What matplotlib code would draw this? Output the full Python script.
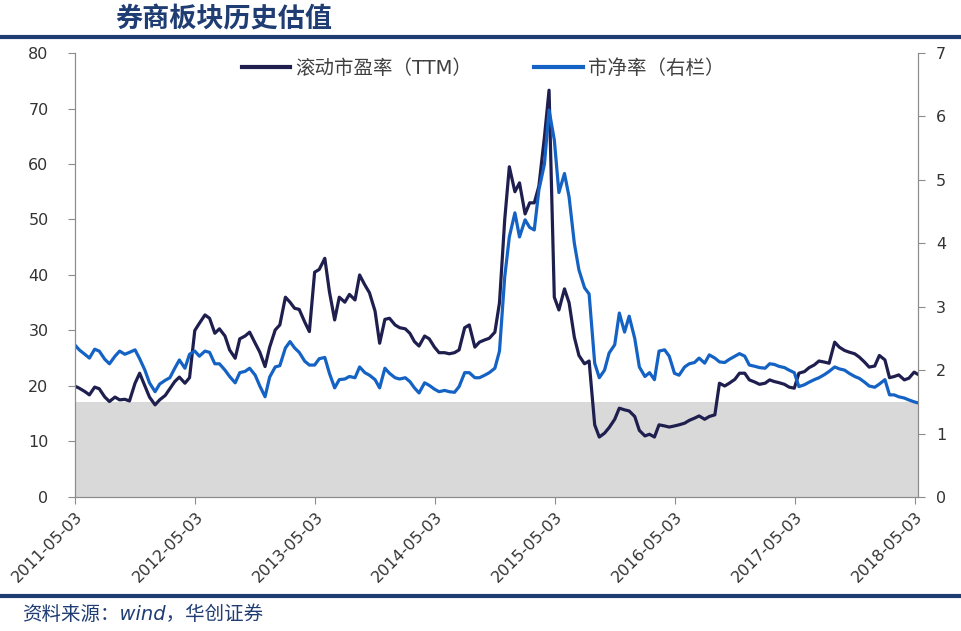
import numpy as np
import pandas as pd
import matplotlib
matplotlib.use('Agg')
import matplotlib.pyplot as plt
from matplotlib.lines import Line2D

plt.rcParams['font.family'] = ['DejaVu Sans', 'Noto Sans CJK SC']

# semi-monthly samples, 2011-05 .. 2018-05
dates = pd.date_range('2011-05-01', periods=170, freq='SMS')

pe_ttm = [
    20.0, 19.6, 19.0, 18.4, 19.8, 19.5, 18.0, 17.2, 18.0, 17.5,
    17.6, 17.3, 20.5, 22.3, 20.0, 18.0, 16.6, 17.5, 18.3, 19.5,
    20.8, 21.6, 20.5, 21.5, 30.0, 31.3, 32.8, 32.2, 29.5, 30.3,
    29.0, 26.5, 25.0, 28.5, 29.0, 29.7, 27.7, 26.1, 23.5, 27.0,
    30.1, 31.0, 36.0, 35.1, 34.0, 33.8, 31.5, 29.8, 40.5, 41.0,
    43.0, 37.0, 31.9, 36.0, 35.1, 36.5, 35.5, 40.0, 38.2, 36.8,
    33.5, 27.7, 32.0, 32.2, 31.0, 30.5, 30.3, 29.5, 28.0, 27.2,
    29.0, 28.5, 27.0, 26.0, 26.0, 25.8, 26.0, 26.5, 30.5, 31.0,
    27.0, 27.9, 28.3, 28.6, 29.7, 35.0, 50.0, 59.5, 55.0, 56.6,
    51.0, 53.0, 53.0, 56.0, 64.9, 73.3, 36.0, 33.7, 37.5, 35.0,
    28.8, 25.5, 24.0, 24.5, 13.0, 10.8, 11.5, 12.5, 14.0, 16.0,
    15.7, 15.5, 14.5, 12.0, 11.0, 11.3, 10.8, 13.0, 12.8, 12.6,
    12.8, 13.0, 13.3, 13.8, 14.2, 14.6, 14.0, 14.5, 14.8, 20.5,
    20.0, 20.5, 21.2, 22.3, 22.3, 21.1, 20.7, 20.3, 20.5, 21.1,
    20.8, 20.6, 20.3, 19.8, 19.6, 22.3, 22.6, 23.3, 23.8, 24.5,
    24.3, 24.1, 27.9, 27.0, 26.4, 26.1, 25.8, 25.2, 24.3, 23.4,
    23.6, 25.5, 24.7, 21.5, 21.7, 22.0, 21.1, 21.4, 22.5, 22.0,
]

pb = [
    2.40, 2.32, 2.25, 2.19, 2.33, 2.30, 2.17, 2.10, 2.22, 2.30,
    2.25, 2.28, 2.32, 2.18, 2.00, 1.80, 1.66, 1.78, 1.84, 1.88,
    2.03, 2.16, 2.03, 2.25, 2.30, 2.22, 2.30, 2.28, 2.10, 2.10,
    2.00, 1.90, 1.80, 1.96, 1.98, 2.03, 1.92, 1.75, 1.58, 1.89,
    2.05, 2.07, 2.35, 2.45, 2.35, 2.28, 2.14, 2.08, 2.08, 2.18,
    2.20, 1.95, 1.72, 1.85, 1.86, 1.90, 1.88, 2.05, 1.96, 1.92,
    1.85, 1.72, 2.03, 1.95, 1.88, 1.86, 1.88, 1.82, 1.72, 1.64,
    1.80, 1.76, 1.70, 1.66, 1.68, 1.66, 1.65, 1.74, 1.96, 1.96,
    1.88, 1.88, 1.92, 1.96, 2.03, 2.30, 3.47, 4.10, 4.48, 4.10,
    4.37, 4.25, 4.21, 4.84, 5.25, 6.10, 5.63, 4.80, 5.10, 4.73,
    4.00, 3.58, 3.30, 3.20, 2.11, 1.88, 2.00, 2.27, 2.40, 2.90,
    2.60, 2.85, 2.50, 2.05, 1.90, 1.96, 1.85, 2.30, 2.32, 2.22,
    1.95, 1.92, 2.05, 2.10, 2.12, 2.19, 2.11, 2.24, 2.19, 2.13,
    2.12, 2.17, 2.22, 2.26, 2.22, 2.08, 2.06, 2.04, 2.03, 2.10,
    2.09, 2.06, 2.04, 2.00, 1.96, 1.74, 1.77, 1.81, 1.85, 1.88,
    1.93, 1.98, 2.05, 2.02, 2.00, 1.95, 1.90, 1.87, 1.81, 1.75,
    1.73, 1.78, 1.85, 1.61, 1.61, 1.58, 1.56, 1.53, 1.50, 1.48,
]

pb_floor = 1.5  # grey band, right-axis units
tick_labels = ['2011-05-03', '2012-05-03', '2013-05-03', '2014-05-03',
               '2015-05-03', '2016-05-03', '2017-05-03', '2018-05-03']

navy = '#1f3d73'
fig = plt.figure(figsize=(9.61, 6.31), dpi=100)
ax = fig.add_axes([0.078, 0.2124, 0.877, 0.7036])
ax2 = ax.twinx()

pe_max, pb_max = 80, 7
ax.axhspan(0, pb_floor * pe_max / pb_max, color='#d9d9d9', lw=0, zorder=0)
l1, = ax.plot(dates, pe_ttm, color='#1f1f4f', lw=2.3, label='滚动市盈率（TTM）')
l2, = ax2.plot(dates, pb, color='#1462c4', lw=2.3, label='市净率（右栏）')

ax.set_ylim(0, pe_max)
ax2.set_ylim(0, pb_max)
ax.set_yticks(range(0, 81, 10))
ax2.set_yticks(range(0, 8))
ax.set_xlim(pd.Timestamp('2011-05-02'), pd.Timestamp('2018-05-12'))
ax.set_xticks(pd.to_datetime(tick_labels))
ax.set_xticklabels(tick_labels, rotation=45, ha='right', rotation_mode='anchor')

for a in (ax, ax2):
    a.spines['top'].set_visible(False)
    for s in ('left', 'right', 'bottom'):
        a.spines[s].set_color('#8c8c8c')
    a.tick_params(colors='#8c8c8c', labelcolor='#333333', labelsize=11.5,
                  length=5)
ax.tick_params(axis='x', pad=4)
ax.tick_params(axis='y', pad=14)
ax2.tick_params(axis='y', pad=8)

leg = ax2.legend(handles=[l1, l2], loc='center', bbox_to_anchor=(0.484, 0.966),
                 ncol=2, frameon=False, fontsize=14, handlelength=2.5,
                 handletextpad=0.25, columnspacing=3.2)
for t in leg.get_texts():
    t.set_color('#404040')
for h in leg.get_lines():
    h.set_linewidth(3)

fig.text(115 / 961, 1 - 19 / 631, '券商板块历史估值', fontsize=19.5, fontweight='bold',
         color=navy, va='center', ha='left', family=['Noto Sans CJK SC'])
fig.add_artist(Line2D([0, 1], [1 - 37 / 631] * 2, color=navy, lw=3,
                      transform=fig.transFigure))
fig.add_artist(Line2D([0, 1], [1 - 596 / 631] * 2, color=navy, lw=3,
                      transform=fig.transFigure))
fig.text(22 / 961, 1 - 614 / 631, '资料来源：wind，华创证券', fontsize=14,
         style='italic', color=navy, va='center', ha='left')

plt.savefig('out.png', dpi=100)
